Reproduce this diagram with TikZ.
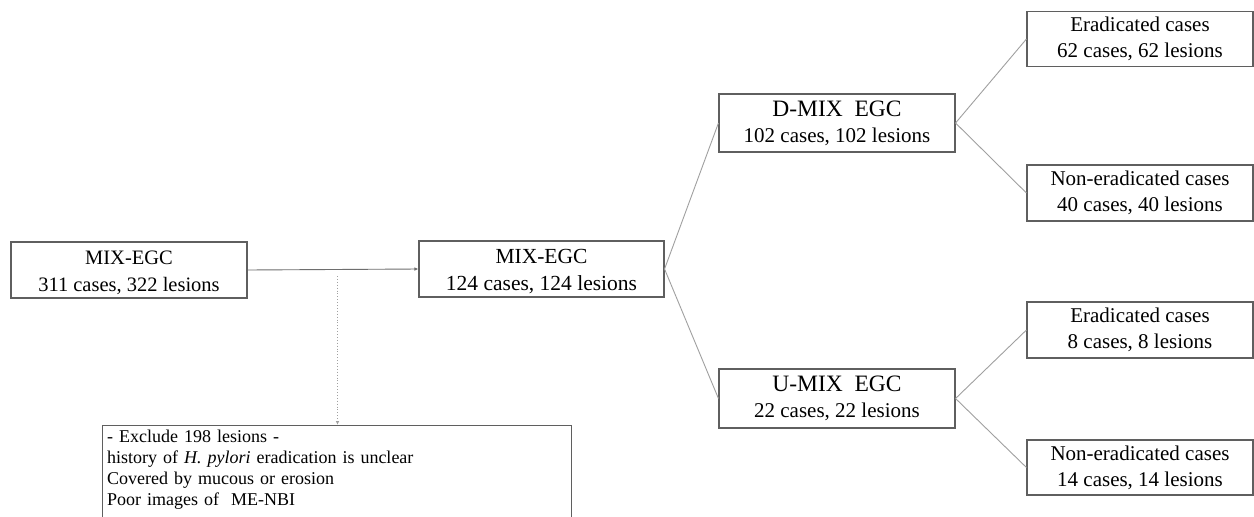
\documentclass[tikz,border=0pt]{standalone}
\usepackage{fontspec}
\setmainfont{Liberation Serif}
\usetikzlibrary{arrows.meta}
\definecolor{boxgray}{RGB}{95,95,95}
\definecolor{linegray}{RGB}{160,160,160}
\definecolor{arrgray}{RGB}{110,110,110}
\begin{document}
\begin{tikzpicture}[x=1pt,y=-1pt,
  box/.style={draw=boxgray, line width=1.1pt, inner sep=0pt, align=center, text=black},
  norm/.style={font=\fontsize{21}{26}\selectfont},
  conn/.style={draw=linegray, line width=0.9pt},
  tip/.style={-{Latex[length=4pt,width=3.5pt]}}
]
\clip (0,0) rectangle (1254,517);
\fill[white] (0,0) rectangle (1254,517);

\node[box,font=\fontsize{20.5}{27}\selectfont,minimum width=236pt,minimum height=56pt] (a) at (129,270) {\rule{0pt}{19pt}MIX-EGC\\311 cases, 322 lesions};
\node[box,font=\fontsize{21.5}{27}\selectfont,minimum width=245pt,minimum height=56pt] (b) at (541.5,269) {\rule{0pt}{19pt}MIX-EGC\\124 cases, 124 lesions};
\node[box,norm,minimum width=236pt,minimum height=58pt] (d) at (837,123) {{\fontsize{23.5}{26}\selectfont D-MIX\ \ EGC}\\102 cases, 102 lesions};
\node[box,norm,minimum width=236pt,minimum height=59pt] (u) at (837,398.5) {{\fontsize{23.5}{26}\selectfont U-MIX\ \ EGC}\\22 cases, 22 lesions};
\node[box,norm,minimum width=226pt,minimum height=55pt] (e1) at (1140,39) {Eradicated cases\\62 cases, 62 lesions};
\node[box,norm,minimum width=226pt,minimum height=56pt] (n1) at (1140,193) {Non-eradicated cases\\40 cases, 40 lesions};
\node[box,norm,minimum width=226pt,minimum height=56pt] (e2) at (1140,330) {Eradicated cases\\8 cases, 8 lesions};
\node[box,norm,minimum width=226pt,minimum height=55pt] (n2) at (1140,467.5) {Non-eradicated cases\\14 cases, 14 lesions};

\node[box,anchor=north west,align=left,text width=460pt,minimum width=469pt,inner xsep=4.5pt,inner ysep=4.5pt,font=\fontsize{18}{21}\selectfont] (x) at (102,425)
  {- Exclude 198 lesions -\\history of \textit{H. pylori} eradication is unclear\\Covered by mucous or erosion\\Poor images of\ \ ME-NBI\\[10pt]\mbox{}};

\draw[draw=arrgray,line width=0.9pt,tip] (a.east) -- (b.west);
\coordinate (d0) at (337.5,276);
\draw[draw=linegray,line width=0.9pt,dotted,tip] (d0) -- (d0 |- x.north);

\draw[conn] (b.east) -- (d.west);
\draw[conn] (b.east) -- (u.west);
\draw[conn] (d.east) -- (e1.west);
\draw[conn] (d.east) -- (n1.west);
\draw[conn] (u.east) -- (e2.west);
\draw[conn] (u.east) -- (n2.west);
\end{tikzpicture}
\end{document}
